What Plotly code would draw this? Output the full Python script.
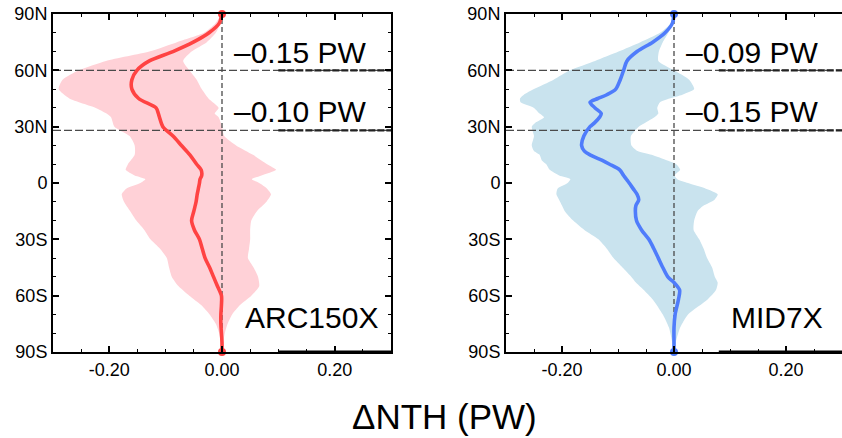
import plotly.graph_objects as go

# ---------------- data ----------------
L_LAT = [90, 85, 80, 75, 70, 65, 60, 55, 50, 45, 40, 37, 35, 30, 25, 20, 15, 10, 7, 4, 2, 0,
         -3, -6, -10, -15, -20, -25, -30, -35, -40, -45, -50, -55, -60, -65, -70, -75, -80, -85, -90]
L_MEAN = [0, -0.005, -0.023, -0.051, -0.087, -0.129, -0.151, -0.160, -0.160, -0.148, -0.117, -0.113,
          -0.111, -0.105, -0.087, -0.072, -0.057, -0.045, -0.037, -0.036, -0.039, -0.040,
          -0.042, -0.044, -0.046, -0.050, -0.054, -0.049, -0.040, -0.035, -0.030, -0.022, -0.015,
          -0.008, -0.001, -0.001, -0.002, -0.002, -0.001, 0, 0]
L_LOW = [0, -0.012, -0.032, -0.080, -0.129, -0.206, -0.254, -0.283, -0.290, -0.271, -0.224, -0.205,
         -0.197, -0.191, -0.164, -0.155, -0.155, -0.167, -0.171, -0.155, -0.136, -0.145,
         -0.170, -0.178, -0.174, -0.163, -0.152, -0.138, -0.127, -0.110, -0.098, -0.094, -0.089,
         -0.077, -0.058, -0.037, -0.022, -0.011, -0.005, -0.002, 0]
L_HIGH = [0, -0.003, -0.011, -0.027, -0.054, -0.069, -0.058, -0.045, -0.036, -0.024, -0.006, -0.013,
          -0.006, 0.0, 0.004, 0.025, 0.055, 0.080, 0.096, 0.070, 0.053, 0.066,
          0.080, 0.087, 0.079, 0.062, 0.052, 0.050, 0.050, 0.048, 0.046, 0.056, 0.064,
          0.066, 0.052, 0.032, 0.018, 0.010, 0.005, 0.002, 0]

R_LAT = [90, 85, 80, 75, 70, 65, 60, 55, 50, 47, 45, 43, 40, 37, 35, 32, 30, 25, 20, 17, 15, 12, 10,
         7, 4, 2, 0, -3, -6, -9, -12, -15, -20, -25, -30, -35, -40, -45, -50, -53, -57, -62, -70,
         -77, -85, -90]
R_MEAN = [0, -0.003, -0.016, -0.038, -0.066, -0.084, -0.090, -0.096, -0.104, -0.120, -0.136, -0.150,
          -0.141, -0.130, -0.133, -0.142, -0.150, -0.161, -0.165, -0.160, -0.150, -0.128, -0.115,
          -0.097, -0.090, -0.085, -0.080, -0.073, -0.066, -0.063, -0.068, -0.069, -0.067, -0.058,
          -0.045, -0.036, -0.028, -0.020, -0.011, 0.000, 0.010, 0.008, 0.002, 0.000, 0, 0]
R_LOW = [0, -0.006, -0.025, -0.060, -0.099, -0.141, -0.186, -0.215, -0.250, -0.268, -0.275, -0.274,
         -0.250, -0.240, -0.232, -0.248, -0.254, -0.250, -0.254, -0.250, -0.240, -0.236, -0.228,
         -0.222, -0.205, -0.185, -0.190, -0.208, -0.210, -0.205, -0.200, -0.195, -0.180, -0.160,
         -0.135, -0.120, -0.108, -0.092, -0.076, -0.068, -0.054, -0.038, -0.020, -0.009, -0.003, 0]
R_HIGH = [0, -0.003, -0.010, -0.020, -0.027, -0.028, 0.000, 0.027, 0.036, 0.015, -0.008, -0.025,
          -0.030, -0.028, -0.035, -0.052, -0.063, -0.077, -0.076, -0.065, -0.040, -0.012, 0.004,
          0.011, 0.001, 0.006, 0.025, 0.057, 0.078, 0.072, 0.053, 0.042, 0.036, 0.035,
          0.045, 0.053, 0.059, 0.068, 0.073, 0.078, 0.075, 0.060, 0.025, 0.011, 0.003, 0]

REF_LATS = [60, 28]
L_LABELS = ["–0.15 PW", "–0.10 PW"]
R_LABELS = ["–0.09 PW", "–0.15 PW"]
PANEL_NAMES = ["ARC150X", "MID7X"]

Y_TICKS = [-90, -60, -30, 0, 30, 60, 90]
Y_TEXT = ["90S", "60S", "30S", "0", "30N", "60N", "90N"]
X_TICKS = [-0.2, 0.0, 0.2]
X_TEXT = ["-0.20", "0.00", "0.20"]

FONT = "Liberation Sans, Arial, Helvetica, sans-serif"
RED, PINK = "#ff4343", "#ffd1d7"
BLUE, LBLUE = "#4f7cfb", "#c9e3ee"
DASH_C = "#4a4a4a"

fig = go.Figure()

panels = [
    ("x", "y", L_LAT, L_MEAN, L_LOW, L_HIGH, RED, PINK, L_LABELS, PANEL_NAMES[0], 0.10),
    ("x2", "y2", R_LAT, R_MEAN, R_LOW, R_HIGH, BLUE, LBLUE, R_LABELS, PANEL_NAMES[1], 0.08),
]

for xa, ya, lat, mean, low, high, lc, fc, labels, name, thick_start in panels:
    # envelope
    fig.add_trace(go.Scatter(
        x=low + high[::-1], y=lat + lat[::-1], fill="toself", fillcolor=fc,
        line=dict(width=0, shape="spline", smoothing=0.6), mode="lines",
        hoverinfo="skip", xaxis=xa, yaxis=ya))
    # reference dashed lines
    fig.add_trace(go.Scatter(x=[0, 0], y=[-90, 90], mode="lines",
                             line=dict(color=DASH_C, width=1.3, dash="5px,3px"),
                             xaxis=xa, yaxis=ya, hoverinfo="skip"))
    for rl in REF_LATS:
        fig.add_trace(go.Scatter(x=[-0.3, 0.3], y=[rl, rl], mode="lines",
                                 line=dict(color=DASH_C, width=1.3, dash="8px,3px"),
                                 xaxis=xa, yaxis=ya, hoverinfo="skip"))
        fig.add_trace(go.Scatter(x=[thick_start, 0.3], y=[rl, rl], mode="lines",
                                 line=dict(color="#222222", width=2.4, dash="7px,2px"),
                                 xaxis=xa, yaxis=ya, hoverinfo="skip"))
    # mean line
    fig.add_trace(go.Scatter(x=mean, y=lat, mode="lines",
                             line=dict(color=lc, width=3.6, shape="spline", smoothing=0.8),
                             xaxis=xa, yaxis=ya, hoverinfo="skip"))
    fig.add_trace(go.Scatter(x=[mean[0], mean[-1]], y=[lat[0], lat[-1]], mode="markers",
                             marker=dict(color=lc, size=8), cliponaxis=False,
                             xaxis=xa, yaxis=ya, hoverinfo="skip"))
    # annotations
    for rl, txt, yy in zip(REF_LATS, labels, [69.5, 38.3]):
        fig.add_annotation(x=0.018, y=yy, xref=xa, yref=ya, text=txt, showarrow=False,
                           xanchor="left", yanchor="middle",
                           font=dict(family=FONT, size=30, color="black"))
    fig.add_annotation(x=0.28 if xa == "x" else 0.27, y=-71.5, xref=xa, yref=ya, text=name,
                       showarrow=False, xanchor="right", yanchor="middle",
                       font=dict(family=FONT, size=30, color="black"))
    # thicker bottom segment (as in the reference)
    fig.add_shape(type="line", xref=xa, yref=ya, x0=thick_start, x1=0.3, y0=-90, y1=-90,
                  line=dict(color="black", width=3))

axis_common = dict(showgrid=False, zeroline=False, showline=True, linecolor="black",
                   linewidth=2, ticks="inside", tickcolor="black", tickwidth=1.5, ticklen=6,
                   automargin=False,
                   tickfont=dict(family=FONT, size=18, color="black"))


def minor(dt):
    return dict(ticks="inside", ticklen=3, tickcolor="black", tickwidth=1, dtick=dt, tick0=0)


W, H = 842, 438
ml, mr, mt, mb = 53, 0, 14, 86
pw = W - ml - mr
ph = H - mt - mb
d1 = [0, (391 - ml) / pw]
d2 = [(506 - ml) / pw, 1.0]

fig.update_layout(
    width=W, height=H, margin=dict(l=ml, r=mr, t=mt, b=mb, autoexpand=False),
    paper_bgcolor="white", plot_bgcolor="white", showlegend=False,
    xaxis=dict(domain=d1, range=[-0.3, 0.3], tickvals=X_TICKS, ticktext=X_TEXT,
               mirror="ticks", minor=minor(0.05), **axis_common),
    yaxis=dict(domain=[0, 1], range=[-90, 90], tickvals=Y_TICKS, ticktext=Y_TEXT,
               anchor="x", mirror="ticks", minor=minor(10), **axis_common),
    xaxis2=dict(domain=d2, range=[-0.3, 0.3], tickvals=X_TICKS, ticktext=X_TEXT,
                anchor="y2", mirror="ticks", minor=minor(0.05), **axis_common),
    yaxis2=dict(domain=[0, 1], range=[-90, 90], tickvals=Y_TICKS, ticktext=Y_TEXT,
                anchor="x2", mirror=False, minor=minor(10), **axis_common),
)

fig.add_annotation(x=(444 - ml) / pw, y=-(416 - 352) / ph, xref="paper", yref="paper",
                   text="ΔNTH (PW)", showarrow=False, xanchor="center", yanchor="middle",
                   font=dict(family=FONT, size=35, color="black"))

# remove the default page margin so the figure sits at the window's top-left corner
fig.write_html("out.html", config={"displayModeBar": False},
               post_script="document.body.style.margin='0px';"
                           "document.body.style.overflow='hidden';")
